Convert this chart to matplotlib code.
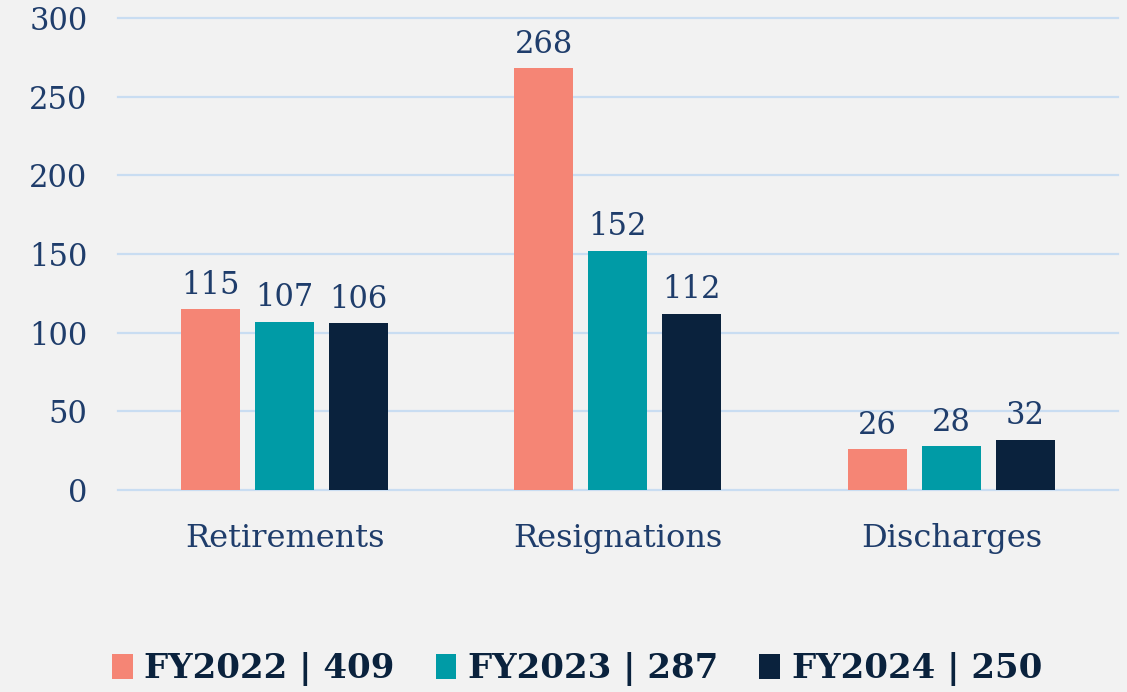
import matplotlib.pyplot as plt
import numpy as np

categories = ["Retirements", "Resignations", "Discharges"]
fy2022 = [115, 268, 26]
fy2023 = [107, 152, 28]
fy2024 = [106, 112, 32]
legend_labels = ["FY2022 | 409", "FY2023 | 287", "FY2024 | 250"]
colors = ["#F58575", "#009BA6", "#0A223D"]

text_col = "#1F3D6B"
bg = "#F2F2F2"

fig = plt.figure(figsize=(11.27, 6.92), dpi=100, facecolor=bg)
ax = fig.add_axes([0.1047, 0.292, 0.8873, 0.682], facecolor=bg)

x = np.arange(len(categories))
w = 0.177
off = 0.222
series = [fy2022, fy2023, fy2024]
for i, (vals, c, lab) in enumerate(zip(series, colors, legend_labels)):
    bars = ax.bar(x + (i - 1) * off, vals, width=w, color=c, label=lab, zorder=3)
    for b, v in zip(bars, vals):
        ax.annotate(str(v), (b.get_x() + b.get_width() / 2, v), xytext=(0, 6),
                    textcoords="offset points", ha="center", va="bottom",
                    fontsize=22, color=text_col, family="DejaVu Serif")

ax.set_xlim(-0.5, 2.5)
ax.set_ylim(0, 300)
ax.set_yticks(range(0, 301, 50))
ax.set_xticks(x)
ax.set_xticklabels(categories)
ax.grid(axis="y", color="#C9DDF2", linewidth=1.6, zorder=0)
for gl in ax.get_ygridlines():
    gl.set_clip_on(False)
for s in ax.spines.values():
    s.set_visible(False)
ax.tick_params(axis="y", length=0, pad=22, labelsize=22, labelcolor=text_col)
ax.tick_params(axis="x", length=0, pad=24, labelsize=23, labelcolor=text_col)
for t in ax.get_xticklabels() + ax.get_yticklabels():
    t.set_family("DejaVu Serif")

fig.legend(loc="center", bbox_to_anchor=(0.512, 0.033), ncol=3, frameon=False,
           prop={"family": "DejaVu Serif", "weight": "bold", "size": 24.5},
           labelcolor="#0A223D", handlelength=0.6, handleheight=0.75,
           handletextpad=0.35, columnspacing=1.2)

fig.savefig("out.png", dpi=100, facecolor=bg)
